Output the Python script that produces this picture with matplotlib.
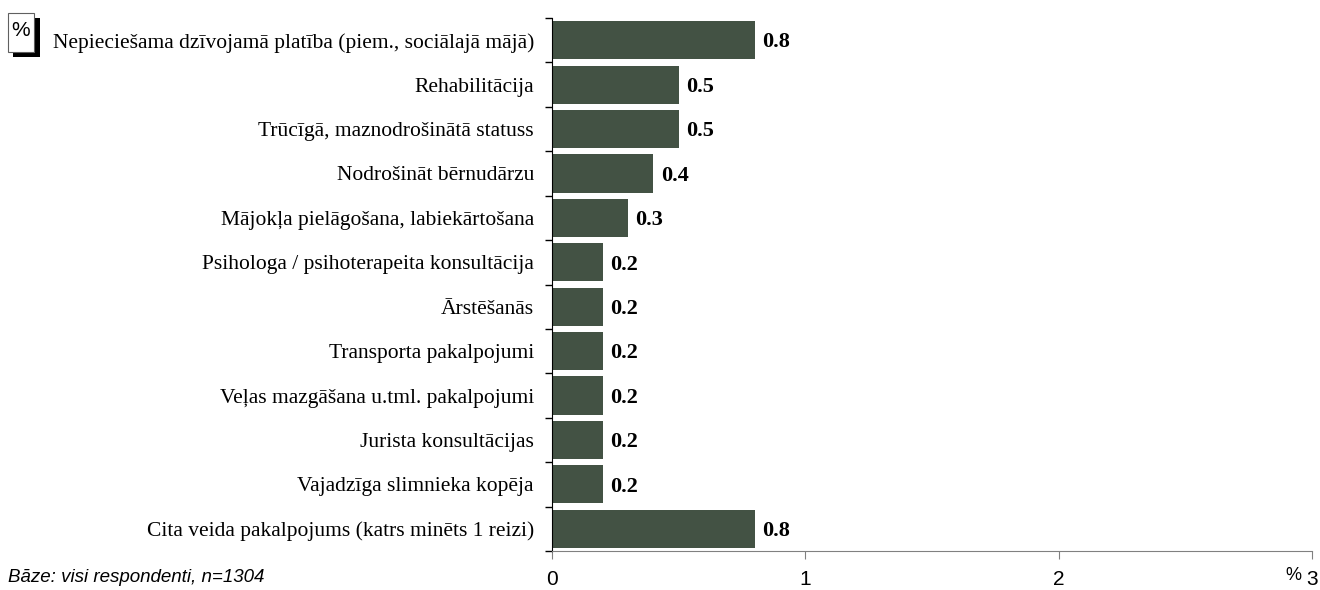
import matplotlib.pyplot as plt
from matplotlib.patches import Rectangle
import numpy as np

categories = [
    "Nepieciešama dzīvojamā platība (piem., sociālajā mājā)",
    "Rehabilitācija",
    "Trūcīgā, maznodrošinātā statuss",
    "Nodrošināt bērnudārzu",
    "Mājokļa pielāgošana, labiekārtošana",
    "Psihologa / psihoterapeita konsultācija",
    "Ārstēšanās",
    "Transporta pakalpojumi",
    "Veļas mazgāšana u.tml. pakalpojumi",
    "Jurista konsultācijas",
    "Vajadzīga slimnieka kopēja",
    "Cita veida pakalpojums (katrs minēts 1 reizi)",
]
values = [0.8, 0.5, 0.5, 0.4, 0.3, 0.2, 0.2, 0.2, 0.2, 0.2, 0.2, 0.8]
x_ticks = [0, 1, 2, 3]
base_note = "Bāze: visi respondenti, n=1304"

bar_color = "#435244"
serif = ["Liberation Serif", "DejaVu Serif"]
sans = ["Liberation Sans", "DejaVu Sans"]

W, H = 1320, 590
fig = plt.figure(figsize=(W / 100, H / 100), dpi=100)
ax = fig.add_axes([552 / W, 1 - 551 / H, (1312 - 552) / W, (551 - 18) / H])

y = np.arange(len(categories))
ax.barh(y, values, height=0.86, color=bar_color)
ax.set_ylim(len(categories) - 0.5, -0.5)
ax.set_xlim(0, 3)

for yi, v in zip(y, values):
    ax.text(v + 0.03, yi + 0.05, f"{v:.1f}", va="center", ha="left",
            fontsize=16, fontweight="bold", family=serif)

ax.set_yticks(y)
ax.set_yticklabels(categories, family=serif, fontsize=15.5)
ax.set_yticks(np.arange(len(categories) + 1) - 0.5, minor=True)
ax.tick_params(axis="y", which="major", length=0, pad=13)
ax.tick_params(axis="y", which="minor", length=5, direction="out", width=1)

ax.set_xticks(x_ticks)
ax.set_xticklabels([str(t) for t in x_ticks], family=sans, fontsize=15)
ax.tick_params(axis="x", length=6, direction="out", color="#808080", pad=8)

for s in ["top", "right"]:
    ax.spines[s].set_visible(False)
ax.spines["bottom"].set_color("#808080")
ax.spines["left"].set_color("black")

fig.text(1293 / W, 1 - 575 / H, "%", family=sans, fontsize=13, ha="center", va="center")
fig.text(8 / W, 1 - 578 / H, base_note, family=sans, fontsize=13.5,
         style="italic", ha="left", va="center")

# small "%" box with shadow in the top-left corner
fig.patches.append(Rectangle((13 / W, 1 - 57 / H), 27 / W, 39 / H,
                             transform=fig.transFigure, facecolor="black", edgecolor="none"))
fig.patches.append(Rectangle((8 / W, 1 - 52 / H), 26 / W, 39 / H,
                             transform=fig.transFigure, facecolor="white", edgecolor="#606060", lw=0.8))
fig.text(21 / W, 1 - 30 / H, "%", family=sans, fontsize=15, ha="center", va="center")

fig.savefig("out.png", dpi=100)
